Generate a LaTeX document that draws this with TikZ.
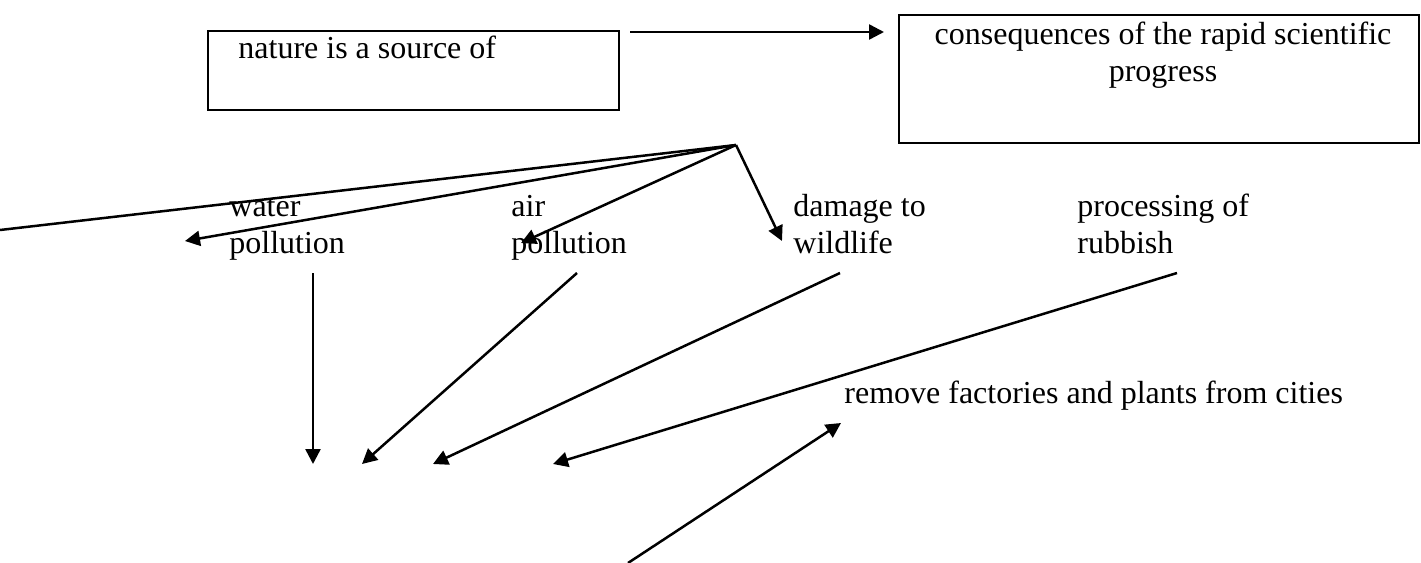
\documentclass[tikz,border=0pt]{standalone}
\usepackage{fontspec}
\setmainfont{Liberation Serif}
\usetikzlibrary{arrows.meta}
\begin{document}
\begin{tikzpicture}[x=0.5pt,y=-0.5pt,
  conn/.style={line width=1.25pt,-{Triangle[length=7.5pt,width=7.5pt]}},
  plain/.style={line width=1.25pt},
  boxnode/.style={draw,line width=1.2pt,inner sep=0pt,anchor=north west},
  txt/.style={font=\fontsize{16pt}{18.5pt}\selectfont,inner sep=0pt,align=left,anchor=base west},
  ctxt/.style={font=\fontsize{16pt}{18.5pt}\selectfont,inner sep=0pt,align=center,anchor=base}]
\useasboundingbox (0,0) rectangle (1421,563);
% boxes
\node[boxnode,minimum width=205.5pt,minimum height=39.5pt] (b1) at (207,30) {};
\node[txt] (t1) at (238,58) {nature is a source of};
\node[boxnode,minimum width=260pt,minimum height=64pt] (b2) at (898,14) {};
\node[ctxt] (t2) at (1163,81) {consequences of the rapid scientific\\progress};
% labels (anchored at the baseline of their last line)
\node[txt] (water) at (229,253) {water\\pollution};
\node[txt] (air) at (511,253) {air\\pollution};
\node[txt] (damage) at (793,253) {damage to\\wildlife};
\node[txt] (proc) at (1077,253) {processing of\\rubbish};
\node[txt] (remove) at (844,403) {remove factories and plants from cities};
% coordinates
\coordinate (a0) at (630,32);
\coordinate (a1) at (884,32);
\coordinate (F) at (736,145);
\coordinate (L) at (0,230);
\coordinate (tw) at (185,241);
\coordinate (ta) at (521,243);
\coordinate (td) at (782,241);
\coordinate (s1) at (313,273);
\coordinate (e1) at (313,464);
\coordinate (s2) at (577,273);
\coordinate (e2) at (362,464);
\coordinate (s3) at (840,273);
\coordinate (e3) at (433,464);
\coordinate (s4) at (1177,273);
\coordinate (e4) at (553,464);
\coordinate (s5) at (628,563);
\coordinate (e5) at (841,423);
% connectors
\draw[conn] (a0) -- (a1);
\draw[plain] (F) -- (L);
\draw[conn] (F) -- (tw);
\draw[conn] (F) -- (ta);
\draw[conn] (F) -- (td);
\draw[conn] (s1) -- (e1);
\draw[conn] (s2) -- (e2);
\draw[conn] (s3) -- (e3);
\draw[conn] (s4) -- (e4);
\draw[conn] (s5) -- (e5);
\end{tikzpicture}
\end{document}
